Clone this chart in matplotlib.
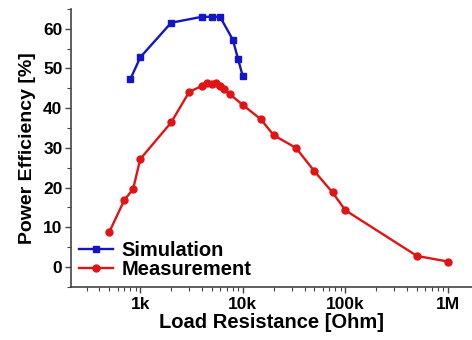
import matplotlib
matplotlib.use('Agg')
import matplotlib.pyplot as plt
from matplotlib.ticker import FixedLocator, MultipleLocator, LogLocator, NullFormatter

plt.rcParams['font.family'] = ['Liberation Sans', 'DejaVu Sans']
plt.rcParams['font.weight'] = 'bold'

# simulation (load resistance in ohm, efficiency in %)
sim_r = [800, 1000, 2000, 4000, 5000, 6000, 8000, 9000, 10000]
sim_eff = [47.3, 52.8, 61.5, 63.0, 63.0, 63.0, 57.2, 52.3, 48.0]

# measurement
meas_r = [500, 700, 850, 1000, 2000, 3000, 4000, 4500, 5000, 5500, 6000,
          6500, 7500, 10000, 15000, 20000, 33000, 50000, 75000, 100000,
          500000, 1000000]
meas_eff = [8.9, 16.9, 19.6, 27.2, 36.4, 44.1, 45.6, 46.3, 46.0, 46.3, 45.6,
            44.7, 43.5, 40.8, 37.2, 33.2, 30.0, 24.1, 18.8, 14.3,
            2.8, 1.4]

xtick_vals = [1e3, 1e4, 1e5, 1e6]
xtick_labels = ['1k', '10k', '100k', '1M']

fig = plt.figure(figsize=(4.72, 3.40), dpi=100)
ax = fig.add_axes([0.150, 0.156, 0.850, 0.818])

ax.plot(sim_r, sim_eff, color='#1414c8', lw=1.7, marker='s', ms=5,
        label='Simulation')
ax.plot(meas_r, meas_eff, color='#e01414', lw=1.7, marker='o', ms=5,
        label='Measurement')

ax.set_xscale('log')
ax.set_xlim(210, 1.72e6)
ax.set_ylim(-5, 65)

ax.xaxis.set_major_locator(FixedLocator(xtick_vals))
ax.set_xticklabels(xtick_labels)
ax.xaxis.set_minor_locator(LogLocator(base=10, subs=range(2, 10)))
ax.xaxis.set_minor_formatter(NullFormatter())
ax.yaxis.set_major_locator(MultipleLocator(10))
ax.yaxis.set_minor_locator(MultipleLocator(5))

for side in ['top', 'right']:
    ax.spines[side].set_visible(False)
for side in ['left', 'bottom']:
    ax.spines[side].set_color('#444444')
    ax.spines[side].set_linewidth(1.2)

ax.tick_params(which='major', direction='out', length=4, width=1,
               color='#444444', labelsize=12.5)
ax.tick_params(which='minor', direction='out', length=3, width=0.8,
               color='#444444')
ax.tick_params(axis='y', pad=2)
ax.tick_params(axis='x', pad=3)

ax.set_xlabel('Load Resistance [Ohm]', fontsize=14.5, fontweight='bold', labelpad=1)
ax.set_ylabel('Power Efficiency [%]', fontsize=14, fontweight='bold', labelpad=5)

ax.legend(loc='lower left', frameon=False, fontsize=14.5, handlelength=1.7,
          handletextpad=0.4, labelspacing=0.0, borderaxespad=0.1,
          borderpad=0.3, bbox_to_anchor=(0.0, 0.0))

fig.savefig('out.png', dpi=100)
